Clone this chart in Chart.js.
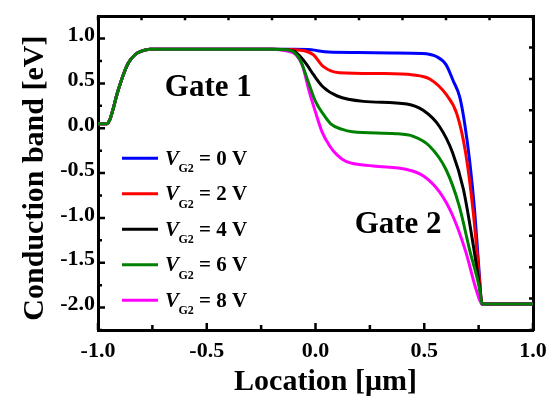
<!DOCTYPE html>
<html>
<head>
<meta charset="utf-8">
<script src="https://cdn.jsdelivr.net/npm/chart.js@4.4.1/dist/chart.umd.min.js"></script>
<style>
  html, body { margin: 0; padding: 0; background: #fff; }
</style>
</head>
<body>
<canvas id="band" width="556" height="398"></canvas>
<script>
// conduction band along the channel, one curve per gate-2 bias
const biasValues = ["0", "2", "4", "6", "8"]
const lineColors = ["#0000ff", "#ff0000", "#000000", "#008000", "#ff00ff"]
const drawOrder  = [4, 3, 2, 0, 1]   // green on top, then magenta...

// source side + gate 1 region, identical for every bias
const gate1X = [-1.0, -0.96, -0.945, -0.93, -0.915, -0.90, -0.88, -0.86, -0.83, -0.80, -0.76, -0.6, -0.4, -0.2]
const gate1Y = [0.05, 0.05, 0.10, 0.22, 0.36, 0.48, 0.62, 0.73, 0.82, 0.86, 0.88, 0.88, 0.88, 0.88]

// drain side after the step
const drainX = [0.765, 1.0]
const drainY = [-1.96, -1.96]

// gate 2 region, per bias
const vg0X = [-0.1, -0.02, 0.06, 0.2, 0.35, 0.49, 0.556, 0.60, 0.633, 0.663, 0.686, 0.71, 0.732, 0.752]
const vg0Y = [0.88, 0.875, 0.85, 0.845, 0.84, 0.835, 0.80, 0.71, 0.53, 0.35, 0.05, -0.39, -0.93, -1.59]

const vg2X = [-0.07, -0.01, 0.035, 0.11, 0.30, 0.45, 0.525, 0.60, 0.65, 0.69, 0.725, 0.755]
const vg2Y = [0.87, 0.82, 0.69, 0.62, 0.61, 0.595, 0.55, 0.38, 0.16, -0.27, -0.93, -1.72]

const vg4X = [-0.10, -0.07, -0.04, -0.01, 0.035, 0.10, 0.22, 0.42, 0.495, 0.57, 0.63, 0.68, 0.725, 0.755]
const vg4Y = [0.86, 0.80, 0.71, 0.60, 0.46, 0.36, 0.30, 0.27, 0.20, 0.02, -0.27, -0.68, -1.30, -1.78]

const vg6X = [-0.12, -0.07, -0.035, 0.0, 0.035, 0.07, 0.12, 0.17, 0.37, 0.45, 0.525, 0.60, 0.66, 0.71, 0.755]
const vg6Y = [0.87, 0.76, 0.53, 0.30, 0.16, 0.05, -0.01, -0.04, -0.06, -0.09, -0.20, -0.46, -0.86, -1.37, -1.80]

const vg8X = [-0.13, -0.09, -0.06, -0.03, 0.0, 0.03, 0.066, 0.10, 0.14, 0.265, 0.42, 0.495, 0.57, 0.63, 0.69, 0.74]
const vg8Y = [0.86, 0.82, 0.70, 0.42, 0.18, -0.04, -0.20, -0.30, -0.37, -0.42, -0.46, -0.53, -0.71, -0.97, -1.37, -1.81]

const gateX = [vg0X, vg2X, vg4X, vg6X, vg8X]
const gateY = [vg0Y, vg2Y, vg4Y, vg6Y, vg8Y]

const serif = "'Liberation Serif', 'Times New Roman', serif"

function toPoints(xs, ys) { return xs.map((x, i) => ({ x, y: ys[i] })) }

const datasets = biasValues.map((v, i) => ({
  label: `VG2 = ${v} V`,
  data: [...toPoints(gate1X, gate1Y), ...toPoints(gateX[i], gateY[i]), ...toPoints(drainX, drainY)],
  borderColor: lineColors[i],
  backgroundColor: lineColors[i],
  borderWidth: 3,
  pointRadius: 0,
  fill: false,
  cubicInterpolationMode: "monotone",
  order: drawOrder[i]
}))

const half = v => Math.abs(v * 2 - Math.round(v * 2)) < 1e-9

// ticks point into the plot on all four sides
const inwardTicks = {
  id: "inwardTicks",
  afterDraw(chart) {
    const { ctx, chartArea: a, scales } = chart
    ctx.save()
    ctx.strokeStyle = "#000"
    ctx.lineWidth = 2.5
    ctx.beginPath()
    for (const t of scales.x.ticks) {
      const p = scales.x.getPixelForValue(t.value)
      const len = half(t.value) ? 7 : 5
      ctx.moveTo(p, a.bottom); ctx.lineTo(p, a.bottom - len)
    }
    for (const t of scales.y.ticks) {
      const p = scales.y.getPixelForValue(t.value)
      const len = half(t.value) ? 7 : 4
      ctx.moveTo(a.left, p); ctx.lineTo(a.left + len, p)
    }
    for (const t of scales.xTop.ticks) {
      const p = scales.xTop.getPixelForValue(t.value)
      ctx.moveTo(p, a.top); ctx.lineTo(p, a.top + 4)
    }
    for (const t of scales.yRight.ticks) {
      const p = scales.yRight.getPixelForValue(t.value)
      ctx.moveTo(a.right, p); ctx.lineTo(a.right - 4, p)
    }
    ctx.stroke()
    ctx.restore()
  }
}

// legend with subscripted V_G2, region names, axis titles
const textLayer = {
  id: "textLayer",
  afterDraw(chart) {
    const { ctx, chartArea: a, scales } = chart
    ctx.save()
    ctx.fillStyle = "#000"

    const lx = a.left + 24, ly = a.top + 142, step = 35.5
    biasValues.forEach((v, i) => {
      const y = ly + i * step
      ctx.strokeStyle = lineColors[i]
      ctx.lineWidth = 3
      ctx.beginPath(); ctx.moveTo(lx, y); ctx.lineTo(lx + 36, y); ctx.stroke()
      ctx.textAlign = "left"
      ctx.textBaseline = "alphabetic"
      ctx.font = `italic bold 21px ${serif}`
      ctx.fillText("V", lx + 43, y + 6.5)
      ctx.font = `bold 12px ${serif}`
      ctx.fillText("G2", lx + 56.5, y + 14)
      ctx.font = `bold 21px ${serif}`
      ctx.fillText(`= ${v} V`, lx + 77, y + 6.5)
    })

    ctx.font = `bold 31px ${serif}`
    ctx.textAlign = "left"
    ctx.fillText("Gate 1", scales.x.getPixelForValue(-0.693), scales.y.getPixelForValue(0.364))
    ctx.fillText("Gate 2", scales.x.getPixelForValue(0.18), scales.y.getPixelForValue(-1.17))

    ctx.font = `bold 30px ${serif}`
    ctx.textAlign = "center"
    ctx.fillText("Location [\u03bcm]", (a.left + a.right) / 2 + 10, 390)

    ctx.translate(42.5, (a.top + a.bottom) / 2 + 5)
    ctx.rotate(-Math.PI / 2)
    ctx.fillText("Conduction band [eV]", 0, 0)
    ctx.restore()
  }
}

const tickFont = { family: serif, size: 22, weight: "bold" }

new Chart(document.getElementById("band"), {
  type: "line",
  data: { datasets },
  options: {
    responsive: false,
    animation: false,
    devicePixelRatio: 1,
    layout: { padding: 0 },
    plugins: { legend: { display: false }, tooltip: { enabled: false } },
    scales: {
      x: {
        type: "linear", position: "bottom", min: -1, max: 1,
        grid: { display: false, drawTicks: false },
        border: { display: true, width: 3, color: "#000" },
        ticks: { stepSize: 0.25, autoSkip: false, maxRotation: 0, padding: 8, color: "#000", font: tickFont,
                 callback: v => half(v) ? v.toFixed(1) : "" },
        afterFit: s => { s.height = 68 }
      },
      xTop: {
        type: "linear", position: "top", min: -1, max: 1,
        grid: { display: false, drawTicks: false },
        border: { display: true, width: 3, color: "#000" },
        ticks: { display: false, stepSize: 0.2 },
        afterFit: s => { s.height = 11 }
      },
      y: {
        type: "linear", position: "left", min: -2.25, max: 1.25,
        grid: { display: false, drawTicks: false },
        border: { display: true, width: 3, color: "#000" },
        ticks: { stepSize: 0.25, autoSkip: false, padding: 3, labelOffset: -3, color: "#000", font: tickFont,
                 callback: v => half(v) ? v.toFixed(1) : "" },
        afterFit: s => { s.width = 98 }
      },
      yRight: {
        type: "linear", position: "right", min: 0, max: 10,
        grid: { display: false, drawTicks: false },
        border: { display: true, width: 3, color: "#000" },
        ticks: { display: false, stepSize: 1 },
        afterFit: s => { s.width = 23 }
      }
    }
  },
  plugins: [inwardTicks, textLayer]
})
</script>
</body>
</html>
